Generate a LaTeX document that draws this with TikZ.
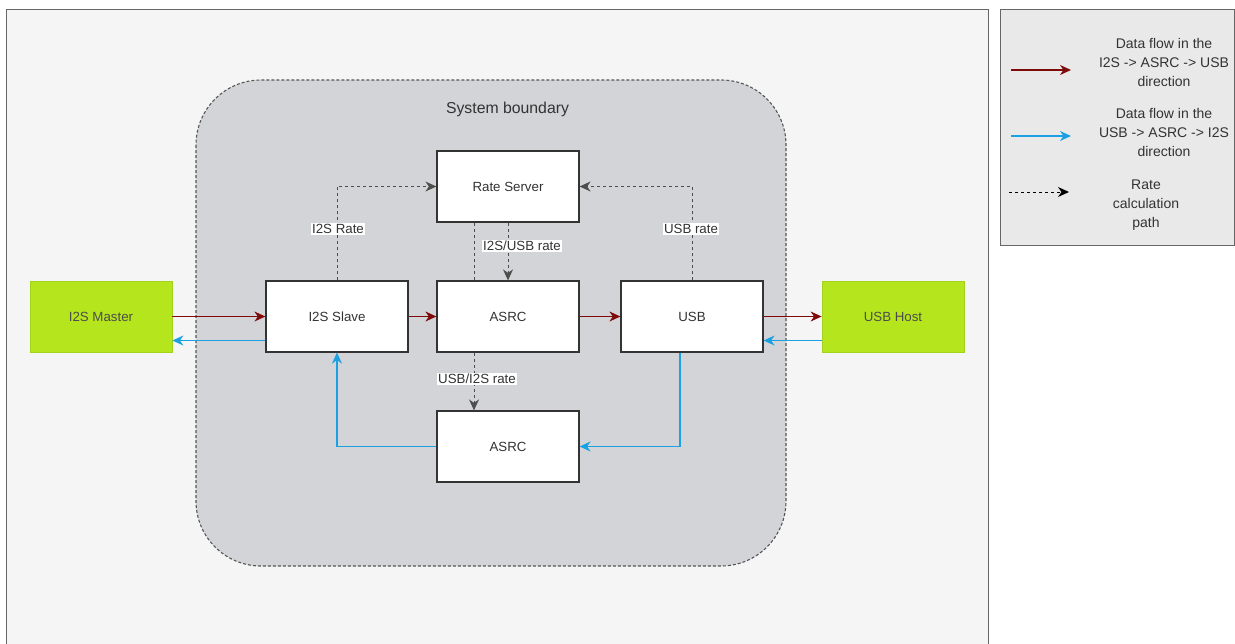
\documentclass[tikz,border=0pt]{standalone}
\usepackage{fontspec}
\setmainfont{Liberation Sans}
\usetikzlibrary{arrows.meta,calc}
\definecolor{bgc}{HTML}{F5F5F5}
\definecolor{legc}{HTML}{E9E9E9}
\definecolor{sysc}{HTML}{D3D4D7}
\definecolor{frame}{HTML}{666666}
\definecolor{sysb}{HTML}{555555}
\definecolor{txt}{HTML}{333333}
\definecolor{redc}{HTML}{7F0A0A}
\definecolor{bluec}{HTML}{1BA1E2}
\definecolor{greenf}{HTML}{B5E61D}
\definecolor{greend}{HTML}{A2D31A}
\definecolor{dashc}{HTML}{4D4D4D}
\begin{document}
\begin{tikzpicture}[x=1pt,y=-1pt,
  blk/.style={draw=txt,fill=white,line width=1.2pt,minimum width=142pt,minimum height=71pt,inner sep=0pt,text=txt,font=\fontsize{13.3}{15}\selectfont},
  ext/.style={draw=greend,fill=greenf,line width=0.8pt,minimum width=142pt,minimum height=71pt,inner sep=0pt,text=black!70,font=\fontsize{13.3}{15}\selectfont},
  tip/.style={-{Stealth[length=11pt,width=10pt,inset=3.5pt]}},
  redarrow/.style={tip,draw=redc,line width=1.2pt},
  bluearrow/.style={tip,draw=bluec,line width=1.2pt},
  ratepath/.style={draw=dashc,line width=1pt,dash pattern=on 3pt off 3pt},
  ratearrow/.style={ratepath,tip},
  lbl/.style={fill=white,inner sep=1pt,text=txt,font=\fontsize{13.3}{15}\selectfont},
  legtext/.style={text=txt,align=center,font=\fontsize{14}{19}\selectfont}
]
\useasboundingbox (0,0) rectangle (1235,643);
\clip (0,0) rectangle (1235,643);
\fill[white] (0,0) rectangle (1235,643);
% outer background
\draw[frame,fill=bgc,line width=1pt] (6,9) rectangle (988,660);
% legend box
\draw[frame,fill=legc,line width=1pt] (1000,9) rectangle (1234,245);
% system boundary
\draw[sysb,fill=sysc,line width=1.1pt,dash pattern=on 3pt off 2pt,rounded corners=65pt] (196,80) rectangle (786,566);
\node[text=txt,font=\fontsize{15.8}{18}\selectfont] (sysl) at (507.5,109) {System boundary};

% blocks
\node[blk] (rs) at (508,186.5) {Rate Server};
\node[blk] (slave) at (337,316.5) {I2S Slave};
\node[blk] (asrc) at (508,316.5) {ASRC};
\node[blk] (usb) at (692,316.5) {USB};
\node[blk] (asrcb) at (508,446.5) {ASRC};
\node[ext] (master) at (101,316.5) {I2S Master};
\node[ext] (host) at (893,316.5) {USB Host};

% red data flow
\draw[redarrow] (master.east) -- (slave.west);
\draw[redarrow] (slave.east) -- (asrc.west);
\draw[redarrow] (asrc.east) -- (usb.west);
\draw[redarrow] (usb.east) -- (host.west);

% blue data flow
\draw[bluearrow] ($(slave.west)+(0,24)$) -- ($(master.east)+(0,24)$);
\draw[bluearrow] ($(host.west)+(0,24)$) -- ($(usb.east)+(0,24)$);
\coordinate (usbd) at ($(usb.south)+(-12,0)$);
\draw[bluearrow] (usbd) |- (asrcb.east);
\draw[bluearrow] (asrcb.west) -| (slave.south);

% rate paths
\draw[ratearrow] (slave.north) |- (rs.west);
\draw[ratearrow] (usb.north) |- (rs.east);
\draw[ratearrow] (rs.south) -- (asrc.north);
\coordinate (rsl) at ($(rs.south)+(-34,0)$);
\coordinate (asl) at ($(asrc.north)+(-34,0)$);
\draw[ratepath] (rsl) -- (asl);
\coordinate (asbl) at ($(asrc.south)+(-34,0)$);
\coordinate (asbt) at ($(asrcb.north)+(-34,0)$);
\draw[ratearrow] (asbl) -- (asbt);

\node[lbl] (l1) at (338,229) {I2S Rate};
\node[lbl] (l2) at (691,229) {USB rate};
\node[lbl] (l3) at (522,246) {I2S/USB rate};
\node[lbl] (l4) at (477,379) {USB/I2S rate};

% legend
\coordinate (ra1) at (1011,70);
\coordinate (ra2) at (1071,70);
\draw[redarrow] (ra1) -- (ra2);
\coordinate (ba1) at (1011,136);
\coordinate (ba2) at (1071,136);
\draw[bluearrow] (ba1) -- (ba2);
\coordinate (da1) at (1009,192);
\coordinate (da2) at (1069,192);
\draw[draw=black,line width=1pt,dash pattern=on 3pt off 3pt,tip] (da1) -- (da2);
\node[legtext] (t1) at (1164,62) {Data flow in the\\I2S -> ASRC -> USB\\direction};
\node[legtext] (t2) at (1164,132) {Data flow in the\\USB -> ASRC -> I2S\\direction};
\node[legtext] (t3) at (1146,205) {Rate\\calculation\\path};
\end{tikzpicture}
\end{document}
